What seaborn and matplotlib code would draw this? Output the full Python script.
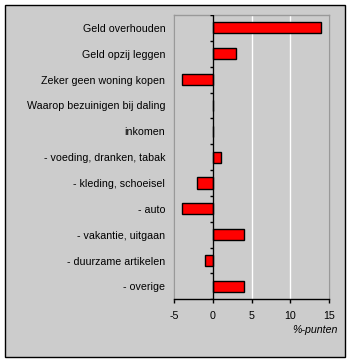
import numpy as np
import pandas as pd
import seaborn as sns
import matplotlib.pyplot as plt
from matplotlib.patches import Rectangle

categories = ['Geld overhouden', 'Geld opzij leggen', 'Zeker geen woning kopen',
              'Waarop bezuinigen bij daling', 'inkomen', '- voeding, dranken, tabak',
              '- kleding, schoeisel', '- auto', '- vakantie, uitgaan',
              '- duurzame artikelen', '- overige']
values = [14, 3, -4, 0, 0, 1, -2, -4, 4, -1, 4]
xticks = [-5, 0, 5, 10, 15]

df = pd.DataFrame({'cat': categories, 'val': values})

sns.set_style('white')
plt.rcParams['font.family'] = ['Liberation Sans', 'DejaVu Sans']
plt.rcParams['text.color'] = 'black'
plt.rcParams['xtick.color'] = 'black'
plt.rcParams['ytick.color'] = 'black'

bg = '#cccccc'
fig = plt.figure(figsize=(3.52, 3.63), dpi=100)
fig.patch.set_facecolor('white')
fig.patches.append(Rectangle((5 / 352, 1 - 357 / 363), 340 / 352, 352 / 363,
                             transform=fig.transFigure, facecolor=bg,
                             edgecolor='black', linewidth=1, zorder=-5))

ax = fig.add_axes([174.3 / 352, 1 - 299.3 / 363, 154.4 / 352, 284.3 / 363])
ax.set_facecolor(bg)

sns.barplot(data=df, x='val', y='cat', orient='h', color='#ff0000',
            edgecolor='black', linewidth=1, width=0.43, saturation=1, ax=ax)

ax.set_xlim(-5, 15)
ax.set_ylim(len(categories) - 0.5, -0.5)
ax.set_xticks(xticks)
ax.set_xticklabels([str(t) for t in xticks])
ax.grid(axis='x', color='white', linewidth=1)
ax.set_axisbelow(True)

# vertical axis at zero with tick marks between categories
ax.axvline(0, color='black', linewidth=1, zorder=3)
bounds = np.arange(len(categories) + 1) - 0.5
ax.hlines(bounds, -0.43, 0, color='black', linewidth=1, zorder=3)

for s in ['top', 'left', 'right']:
    ax.spines[s].set_color('#999999')
    ax.spines[s].set_linewidth(1)
ax.spines['bottom'].set_color('black')
ax.spines['bottom'].set_linewidth(1)

ax.tick_params(axis='y', length=0, pad=6.5, labelsize=7.7, labelcolor='black')
ax.tick_params(axis='x', length=3, width=1, color='black', direction='out',
               pad=5.5, labelsize=7.7, labelcolor='black', bottom=True)
ax.set_xlabel('')
ax.set_ylabel('')

fig.text(338 / 352, 1 - 330 / 363, '%-punten', ha='right', va='center',
         fontsize=7.7, style='italic', color='black')

fig.savefig('out.png', dpi=100, facecolor=fig.get_facecolor())
